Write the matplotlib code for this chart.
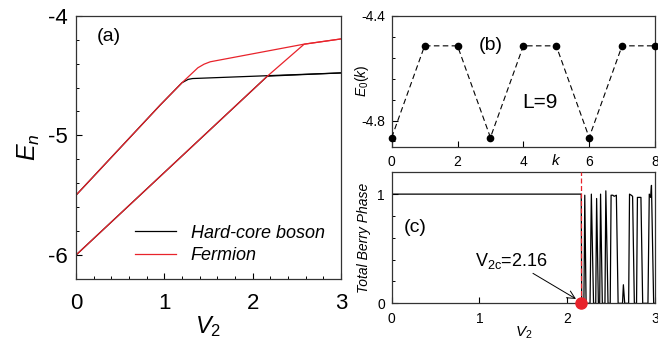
import matplotlib
matplotlib.use("Agg")
import matplotlib.pyplot as plt
from matplotlib.ticker import MultipleLocator

plt.rcParams["font.family"] = ["Liberation Sans", "DejaVu Sans"]
plt.rcParams["mathtext.fontset"] = "custom"
plt.rcParams["mathtext.rm"] = "Liberation Sans"
plt.rcParams["mathtext.it"] = "Liberation Sans:italic"
plt.rcParams["axes.unicode_minus"] = False
plt.rcParams["axes.linewidth"] = 0.9
plt.rcParams["axes.edgecolor"] = "#333333"

RED = "#e8232b"

# (a) energy levels vs V2
boson_v1 = [0.0, 0.955, 1.2, 1.27, 1.32, 3.0]
boson_e1 = [-5.5, -4.745, -4.56, -4.532, -4.525, -4.478]
boson_v0 = [0.0, 2.167, 3.0]
boson_e0 = [-6.0, -4.505, -4.478]
ferm_v1 = [0.0, 0.955, 1.2, 1.38, 1.45, 1.52, 2.58, 3.0]
ferm_e1 = [-5.5, -4.745, -4.56, -4.435, -4.405, -4.385, -4.238, -4.194]
ferm_v0 = [0.0, 2.167, 2.583, 3.0]
ferm_e0 = [-6.0, -4.505, -4.238, -4.194]

# (b) E0(k), L=9
k_vals = [0, 1, 2, 3, 4, 5, 6, 7, 8]
e_k = [-4.865, -4.515, -4.515, -4.865, -4.515, -4.515, -4.865, -4.515, -4.515]

# (c) total Berry phase
v2c = 2.16
bp_v = [0.0, 2.16, 2.165, 2.19, 2.20, 2.215, 2.26, 2.275, 2.30, 2.325, 2.335,
        2.355, 2.37, 2.38, 2.40, 2.43, 2.44, 2.465, 2.49, 2.50, 2.52, 2.535,
        2.56, 2.58, 2.63, 2.64, 2.655, 2.70, 2.71, 2.73, 2.745, 2.765, 2.79,
        2.80, 2.84, 2.86, 2.92, 2.935, 2.95, 2.96, 2.985, 3.0]
bp = [1, 1, 0, 0, 0.99, 0, 0, 1.0, 0, 0, 0.96,
      0, 0, 1.0, 0, 0, 1.03, 0, 0, 0.99, 0.99, 0.98,
      0.99, 0, 0, 0.17, 0, 0, 1.0, 0.99, 0.98, 0, 0,
      0.97, 0.97, 0, 0, 1.0, 0.97, 1.08, 0, 0]

fig = plt.figure(figsize=(6.58, 3.43), dpi=100)
ax_a = fig.add_axes([0.1155, 0.1866, 0.4027, 0.7676])
ax_b = fig.add_axes([0.5953, 0.5723, 0.4001, 0.3819])
ax_c = fig.add_axes([0.5953, 0.1157, 0.4001, 0.3820])

# ---- (a)
ax_a.plot(boson_v1, boson_e1, color="black", lw=0.9, label="Hard-core boson")
ax_a.plot(boson_v0, boson_e0, color="black", lw=0.9)
ax_a.plot(ferm_v1, ferm_e1, color=RED, lw=0.9, label="Fermion")
ax_a.plot(ferm_v0, ferm_e0, color=RED, lw=0.9)
ax_a.set_xlim(0, 3)
ax_a.set_ylim(-6.2, -4)
ax_a.xaxis.set_major_locator(MultipleLocator(1))
ax_a.xaxis.set_minor_locator(MultipleLocator(0.2))
ax_a.yaxis.set_major_locator(MultipleLocator(1))
ax_a.yaxis.set_minor_locator(MultipleLocator(0.2))
ax_a.tick_params(which="both", direction="in", top=False, right=False)
ax_a.tick_params(which="major", length=4, width=0.8, labelsize=16)
ax_a.tick_params(which="minor", length=2.2, width=0.7)
ax_a.tick_params(axis="x", pad=10)
ax_a.tick_params(axis="y", pad=6)
ax_a.set_xlabel("$V_2$", fontsize=17, labelpad=0)
ax_a.set_ylabel("$E_n$", fontsize=18, labelpad=4)
ax_a.text(0.08, 0.92, "(a)", transform=ax_a.transAxes, fontsize=14, va="center")
ax_a.legend(loc="lower right", bbox_to_anchor=(1.0, -0.005), frameon=False,
            prop={"style": "italic", "size": 13}, handlelength=2.3,
            handletextpad=0.8, labelspacing=0.3)

# ---- (b)
ax_b.plot(k_vals, e_k, color="black", lw=0.8, ls=(0, (5, 3)),
          marker="o", markersize=4.5, clip_on=False, zorder=3)
ax_b.set_xlim(0, 8)
ax_b.set_ylim(-4.9, -4.4)
ax_b.set_xticks([0, 2, 4, 6, 8])
ax_b.set_yticks([-4.8, -4.4])
ax_b.yaxis.set_minor_locator(MultipleLocator(0.08))
ax_b.tick_params(which="both", direction="in", top=False, right=False)
ax_b.tick_params(which="major", length=4, width=0.8, labelsize=10)
ax_b.tick_params(which="minor", length=2.2, width=0.7)
ax_b.tick_params(axis="x", pad=6)
ax_b.tick_params(axis="y", pad=5)
ax_b.set_ylabel("$E_0(k)$", fontsize=10)
ax_b.yaxis.set_label_coords(-0.078, 0.5)
ax_b.text(5, -4.924, "$k$", fontsize=11, ha="center", va="top")
ax_b.text(3.0, -4.512, "(b)", fontsize=14, ha="center", va="center")
ax_b.text(4.5, -4.733, "L=9", fontsize=15, ha="center", va="center")

# ---- (c)
ax_c.plot(bp_v, bp, color="black", lw=0.9)
ax_c.axvline(v2c, color=RED, lw=0.9, ls=(0, (4, 2)), zorder=3)
ax_c.plot([v2c], [0], "o", color=RED, markersize=8, clip_on=False, zorder=4)
ax_c.set_xlim(0, 3)
ax_c.set_ylim(0, 1.2)
ax_c.xaxis.set_major_locator(MultipleLocator(1))
ax_c.set_yticks([0, 1])
ax_c.yaxis.set_minor_locator(MultipleLocator(0.2))
ax_c.tick_params(which="both", direction="in", top=False, right=False)
ax_c.tick_params(which="major", length=4, width=0.8, labelsize=10)
ax_c.tick_params(which="minor", length=2.2, width=0.7)
ax_c.tick_params(axis="x", pad=6)
ax_c.tick_params(axis="y", pad=5)
ax_c.set_xlabel("$V_2$", fontsize=11, labelpad=-1)
ax_c.set_ylabel("Total Berry Phase", fontsize=10, style="italic")
ax_c.yaxis.set_label_coords(-0.078, 0.5)
ax_c.text(0.27, 0.69, "(c)", fontsize=14, ha="center", va="center")
ax_c.annotate("$\\mathregular{V_{2c}}$=2.16", xy=(2.1, 0.04), xytext=(0.95, 0.3),
              fontsize=13, ha="left", va="bottom",
              arrowprops=dict(arrowstyle="->", color="black", lw=0.7,
                              shrinkA=0, shrinkB=0, mutation_scale=14))

fig.savefig("out.png", dpi=100)
